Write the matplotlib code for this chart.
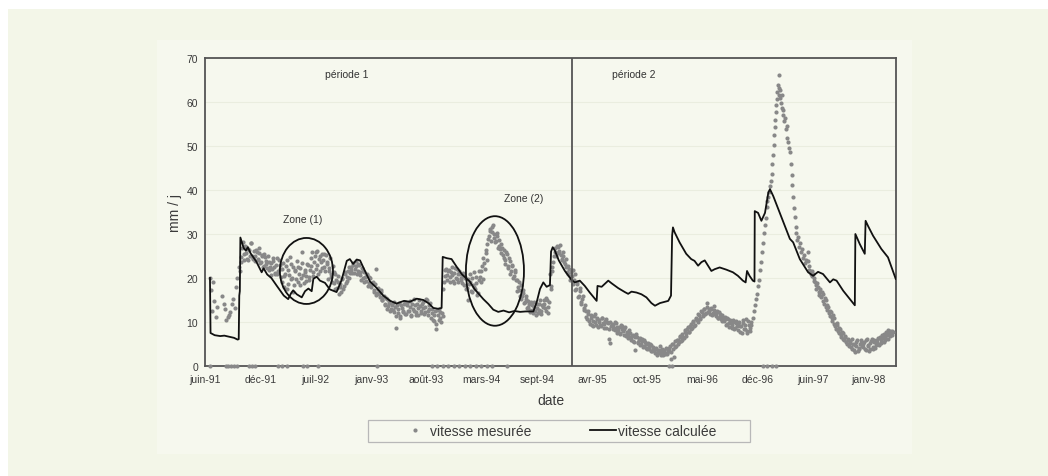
import numpy as np
import matplotlib
matplotlib.use("Agg")
import matplotlib.pyplot as plt
import matplotlib.dates as mdates
from matplotlib.lines import Line2D
from matplotlib.patches import Ellipse, Rectangle

plt.rcParams["font.family"] = ["Liberation Sans", "DejaVu Sans"]

# origine des jours : 11 juin 1991
debut = np.datetime64("1991-06-11")

# ---- vitesse mesurée (mm/j) ----
# premières mesures, tous les 4 jours à partir du jour 18
mes_a_debut = 18
mes_a = [20.0, 17.2, 12.5, 19.0, 14.8, 11.2, 13.5]

# reprise des mesures, tous les 5 jours à partir du jour 62
mes_b_debut = 62
mes_b = [16.0, 14.2, 13.0, 10.4, 11.1, 11.6, 12.3, 14.0, 15.2, 13.2, 18.0, 20.1, 22.5]

# période 1, tous les 5 jours à partir du jour 127
mes_p1_debut = 127
mes_p1 = [
    21.5, 24.8, 28.2, 25.4, 27.1, 24.3, 26.6, 25.0, 27.9, 24.6,
    26.2, 23.9, 25.8, 24.4, 26.9, 23.6, 25.2, 22.8, 24.7, 23.1,
    24.9, 21.8, 23.4, 22.0, 24.6, 21.2, 23.0, 20.8, 24.2, 22.1,
    19.2, 23.5, 20.4, 22.8, 17.6, 21.9, 24.8, 19.7, 22.4, 18.3,
    21.6, 23.9, 19.0, 22.2, 20.1, 25.8, 18.8, 21.4, 20.5, 22.9,
    19.6, 22.7, 25.8, 21.3, 25.1, 22.0, 26.2, 24.3, 21.7, 25.5,
    24.0, 22.4, 25.2, 23.1, 21.5, 24.6, 20.2, 22.8, 18.9, 21.0,
    17.8, 20.4, 18.6, 16.9, 19.8, 18.2, 20.9, 19.4, 21.6, 20.0,
    22.6, 21.2, 23.4, 22.0, 23.8, 21.5, 22.9, 20.6, 22.2, 20.0,
    21.3, 19.4, 20.6, 18.8, 19.9, 17.9, 19.0, 17.2, 22.0, 16.6,
    17.5, 15.6, 16.8, 14.9, 16.0, 14.2, 15.3, 13.6, 14.7, 12.9,
    14.1, 12.3, 13.5, 8.6, 12.0, 14.3, 11.4, 13.2, 12.6, 14.5,
    11.8, 13.9, 12.4, 14.8, 11.6, 13.0, 15.2, 12.2, 14.0, 11.5,
    13.7, 12.1, 14.6, 11.9, 13.4, 15.0, 12.5, 13.8, 11.0, 12.9,
    10.2, 12.4, 8.3, 11.6, 13.0, 10.8, 12.1, 17.5, 20.4, 22.0,
    19.6, 21.8, 20.2, 22.4, 19.3, 21.1, 20.0, 22.0, 19.0, 20.8,
    19.5, 21.2, 18.4, 20.3, 17.8, 15.0, 19.2, 17.0, 20.1, 18.0,
    17.4, 20.3, 16.6, 21.5, 19.0, 22.8, 24.6, 22.0, 26.4, 27.8,
    29.6, 31.2, 30.4, 32.0, 29.0, 28.3, 29.6, 27.2, 26.5, 27.8,
    25.2, 26.3, 24.0, 25.4, 22.8, 23.9, 21.6, 22.7, 20.4, 21.3,
    19.6, 18.0, 17.2, 18.4, 15.8, 16.7, 14.5, 15.3, 13.4, 14.1,
    12.3, 13.8, 12.0, 14.6, 11.7, 13.2, 12.8, 14.9, 11.9, 13.5,
    14.2, 12.6, 15.0, 13.4, 20.8, 17.5, 22.4, 25.0, 26.8, 25.6,
    27.0, 26.1, 25.3, 24.2, 25.0, 23.1, 22.4, 21.0, 22.0, 19.6,
]
# second relevé de la période 1, décalé (jour 130, tous les 5 jours)
mes_p1_bis_debut = 130
mes_p1_bis = [
    23.6, 26.9, 24.2, 27.3, 25.6, 24.0, 26.4, 28.0, 25.1, 24.3,
    25.0, 26.4, 24.0, 25.7, 23.3, 24.9, 22.6, 25.5, 23.8, 22.2,
    23.7, 22.5, 20.6, 23.9, 22.4, 21.0, 24.5, 21.7, 22.9, 20.3,
    22.1, 17.9, 21.0, 24.0, 18.7, 20.6, 23.1, 19.9, 16.9, 21.8,
    19.8, 22.6, 20.9, 18.4, 23.5, 20.7, 21.9, 19.3, 23.2, 20.2,
    21.8, 24.6, 20.4, 23.7, 26.0, 23.0, 20.9, 25.0, 23.6, 22.3,
    25.4, 21.6, 23.6, 19.8, 22.3, 20.8, 19.2, 21.4, 17.6, 19.5,
    19.2, 16.3, 18.0, 19.9, 17.4, 21.4, 18.8, 20.3, 22.4, 21.2,
    21.8, 23.0, 21.1, 22.7, 20.8, 23.2, 21.3, 19.6, 21.5, 19.1,
    20.2, 20.9, 18.1, 20.3, 18.5, 18.9, 16.8, 18.6, 16.2, 17.8,
    16.3, 17.2, 15.0, 15.7, 13.8, 15.5, 13.0, 14.3, 12.4, 13.8,
    12.8, 14.6, 11.3, 13.9, 12.9, 10.9, 13.8, 12.2, 14.0, 11.9,
    14.4, 12.6, 13.4, 11.3, 14.1, 12.6, 13.8, 11.7, 13.1, 14.9,
    12.6, 14.2, 13.1, 12.2, 15.3, 11.6, 12.9, 14.4, 12.0, 10.5,
    11.6, 9.6, 12.8, 10.4, 12.2, 9.9, 11.4, 19.2, 21.8, 20.6,
    21.6, 19.0, 21.3, 20.6, 18.8, 22.3, 19.7, 20.9, 21.6, 19.9,
    18.8, 20.5, 19.9, 17.4, 19.8, 18.6, 20.8, 16.8, 18.4, 21.3,
    18.9, 16.2, 19.6, 20.2, 21.6, 19.7, 23.4, 25.6, 24.0, 28.8,
    30.6, 28.4, 31.6, 30.0, 28.1, 30.2, 26.8, 28.6, 25.6, 26.8,
    24.6, 23.2, 25.9, 22.2, 24.6, 21.0, 23.0, 20.1, 21.9, 19.5,
    17.1, 19.0, 16.0, 15.2, 17.2, 14.3, 15.8, 13.1, 14.8, 12.7,
    14.5, 12.7, 13.3, 12.4, 14.0, 12.1, 14.2, 12.6, 13.8, 15.1,
    13.1, 15.4, 12.1, 14.5, 18.2, 21.6, 23.6, 26.0, 25.1, 27.3,
    25.7, 27.4, 24.4, 25.8, 23.6, 24.3, 21.4, 22.8, 20.4, 21.4,
]

# période 2, tous les 5 jours à partir du jour 1327
mes_p2_debut = 1327
mes_p2 = [
    20.4, 18.6, 21.0, 17.4, 19.2, 16.0, 17.8, 14.6, 15.9, 13.2,
    12.4, 10.6, 11.8, 9.6, 10.9, 9.2, 11.3, 9.9, 10.6, 8.8,
    10.4, 9.1, 11.0, 9.5, 10.2, 8.7, 9.8, 6.1, 5.2, 9.6,
    9.3, 8.1, 9.7, 7.6, 8.8, 7.2, 9.1, 7.9, 8.4, 6.9,
    7.8, 6.4, 7.5, 6.0, 7.1, 5.5, 3.6, 6.6, 5.2, 6.3,
    5.0, 6.1, 4.6, 5.5, 4.1, 5.2, 3.8, 4.7, 3.4, 4.3,
    3.0, 4.1, 2.6, 3.7, 2.9, 3.9, 2.4, 3.4, 4.2, 2.7,
    3.5, 4.6, 1.6, 5.1, 2.0, 4.4, 5.8, 4.9, 6.5, 5.6,
    7.2, 6.3, 8.1, 7.4, 8.9, 7.8, 9.6, 8.7, 10.3, 9.4,
    11.0, 10.1, 11.7, 10.6, 12.3, 11.4, 13.0, 12.0, 14.4, 12.6,
    11.8, 13.2, 12.1, 12.8, 11.4, 12.5, 10.9, 11.9, 10.6, 11.6,
    10.2, 11.1, 9.5, 10.6, 8.9, 10.0, 9.3, 10.4, 8.6, 9.7,
    8.2, 10.1, 9.0, 7.5, 9.8, 8.4, 10.6, 7.9, 9.3, 8.0,
]
mes_p2_bis_debut = 1330
mes_p2_bis = [
    21.8, 19.5, 17.2, 18.7, 15.6, 17.0, 14.1, 15.3, 12.8, 13.9,
    11.1, 12.6, 10.2, 11.5, 9.3, 10.3, 11.9, 9.4, 10.9, 10.0,
    9.3, 10.8, 9.7, 8.6, 10.7, 9.9, 8.4, 10.0, 9.2, 8.3,
    8.6, 10.0, 8.9, 8.2, 7.4, 9.3, 8.3, 7.0, 8.9, 7.6,
    7.0, 8.2, 6.6, 6.9, 5.6, 6.5, 7.2, 5.4, 6.0, 4.8,
    5.7, 4.4, 5.8, 4.9, 3.8, 4.6, 5.0, 3.3, 4.2, 3.6,
    3.8, 2.9, 3.4, 4.5, 2.5, 3.2, 3.7, 2.8, 3.0, 3.6,
    4.2, 3.1, 5.0, 3.9, 5.6, 4.6, 6.0, 5.4, 6.8, 5.9,
    6.6, 7.8, 6.9, 8.4, 7.7, 9.2, 8.3, 10.0, 9.1, 10.7,
    10.5, 11.9, 10.9, 12.6, 11.6, 12.9, 11.8, 13.4, 12.2, 13.0,
    12.9, 11.6, 13.6, 11.9, 12.0, 10.9, 12.2, 11.3, 10.2, 11.0,
    10.7, 9.4, 11.0, 9.8, 10.4, 8.7, 9.9, 8.4, 10.2, 9.0,
    9.6, 7.8, 9.1, 10.4, 8.3, 9.4, 7.4, 10.2, 8.7, 10.0,
]

# crue de l'hiver 96-97
pic_jours = [1977, 1981, 1985, 1989, 1993, 1997, 2001, 2005, 2009, 2013,
             2017, 2020, 2023, 2026, 2029, 2032, 2035, 2038, 2041, 2044,
             2047, 2050, 2053, 2055, 2057, 2059, 2061, 2063, 2065, 2067,
             2069, 2071, 2073, 2075, 2076, 2078, 2080, 2082, 2084, 2086,
             2088, 2090, 2092, 2095, 2098, 2101, 2104, 2107, 2110, 2113,
             2116, 2119, 2122, 2125, 2128, 2131, 2134, 2137, 2140, 2143,
             2146, 2149, 2152, 2156, 2160, 2164, 2168, 2172, 2176]
pic_vitesse = [9.4, 10.8, 12.6, 13.9, 15.3, 16.4, 18.2, 19.6, 21.8, 23.6,
               26.0, 27.9, 30.2, 32.0, 33.6, 36.2, 37.4, 38.3, 39.6, 40.8,
               42.0, 43.6, 45.8, 47.9, 50.2, 52.4, 54.3, 56.0, 57.8, 59.4,
               60.6, 62.3, 63.8, 61.7, 66.1, 63.2, 60.9, 62.7, 59.8, 61.5,
               58.6, 57.0, 58.2, 55.6, 56.4, 53.8, 54.6, 51.9, 50.8, 49.5,
               48.6, 46.0, 43.4, 41.2, 38.5, 36.0, 33.8, 31.5, 30.2, 28.6,
               29.4, 27.0, 27.9, 25.8, 26.6, 24.5, 25.3, 23.4, 24.1]

# décrue 1997-98, tous les 5 jours à partir du jour 2180
mes_p3_debut = 2180
mes_p3 = [
    26.0, 22.8, 21.5, 20.4, 21.0, 19.4, 18.3, 18.9, 16.9, 17.5,
    15.6, 16.3, 14.2, 14.9, 12.8, 13.5, 11.4, 12.2, 10.3, 10.9,
    9.0, 9.8, 7.9, 8.7, 7.0, 7.8, 6.1, 6.9, 5.4, 6.2,
    4.6, 5.7, 3.9, 5.1, 3.2, 4.5, 5.9, 3.8, 4.9, 6.0,
    4.3, 5.4, 3.6, 6.2, 4.8, 3.9, 5.6, 4.4, 6.0, 4.1,
    5.2, 6.3, 4.7, 5.9, 7.0, 5.5, 6.6, 7.8, 6.2, 7.4, 8.0, 7.1, 7.7,
]
mes_p3_bis_debut = 2182
mes_p3_bis = [
    23.9, 21.8, 20.9, 21.6, 19.9, 19.0, 17.6, 17.9, 16.2, 15.8,
    16.8, 14.8, 15.5, 13.4, 13.9, 12.0, 12.6, 11.0, 11.5, 9.6,
    8.5, 9.3, 7.4, 8.3, 6.6, 7.4, 5.8, 6.5, 5.0, 5.8,
    5.3, 4.3, 6.2, 3.6, 4.8, 5.5, 3.4, 4.2, 5.3, 4.6,
    5.0, 3.9, 5.9, 4.5, 3.5, 5.2, 6.1, 3.8, 5.4, 4.7,
    5.8, 4.9, 6.6, 5.3, 6.4, 7.2, 6.0, 7.0, 8.2, 6.8, 7.5, 7.9,
]

# relevés nuls
zero_jours = [18, 75, 85, 95, 105, 115, 160, 170, 180, 265, 280, 295, 355, 370,
              410, 622, 820, 840, 860, 880, 900, 920, 940, 960, 980, 1000, 1020,
              1040, 1092, 1678, 1690, 2020, 2035, 2050, 2065]

# ---- vitesse calculée (mm/j) ----
calc_jours = [18, 20, 35, 55, 70, 90, 105, 118, 122, 124, 126, 128, 140, 148, 155,
              165, 185, 205, 212, 225, 240, 260, 285, 301, 312, 319, 332, 350, 362,
              374, 386, 392, 404, 416, 434, 452, 476, 494, 513, 524, 536, 549, 561,
              572, 597, 620, 645, 670, 693, 720, 741, 766, 790, 810, 826, 844, 856,
              860, 875, 892, 910, 930, 958, 975, 1007, 1025, 1043, 1061, 1080, 1100,
              1120, 1140, 1160, 1188, 1200, 1212, 1224, 1236, 1248, 1252, 1258, 1266,
              1280, 1302, 1327,
              1338, 1356, 1374, 1392, 1417, 1420, 1435, 1459, 1471, 1495, 1519, 1531,
              1543, 1561, 1579, 1597, 1615, 1628, 1646, 1676, 1686, 1690, 1693, 1699,
              1717, 1741, 1759, 1771, 1784, 1796, 1808, 1820, 1832, 1844, 1862, 1886,
              1910, 1928, 1946, 1956, 1961, 1970, 1982, 1988, 1989, 2001, 2013, 2026,
              2038, 2044, 2056, 2116, 2128, 2152, 2182, 2200, 2218, 2236, 2261, 2273,
              2285, 2309, 2333, 2351, 2353, 2369, 2387, 2390, 2399, 2417, 2447, 2471,
              2499]
calc_vitesse = [20.0, 7.5, 7.0, 6.8, 6.9, 6.6, 6.4, 6.0, 6.1, 16.0, 17.0, 29.2, 26.8,
                26.2, 27.0, 25.6, 23.8, 21.3, 22.2, 20.8, 20.0, 18.2, 16.0, 15.2, 16.6,
                17.2, 16.3, 15.6, 17.0, 17.6, 17.0, 19.8, 20.3, 19.4, 18.9, 17.4, 16.8,
                19.5, 23.9, 24.3, 23.2, 24.2, 24.0, 22.5, 19.2, 17.8, 16.0, 14.8, 14.2,
                14.8, 14.6, 15.3, 15.0, 14.2, 13.2, 13.0, 13.2, 24.8, 24.5, 24.3, 22.6,
                20.8, 19.2, 17.5, 15.2, 14.1, 12.8, 12.3, 12.6, 12.2, 12.5, 12.3, 12.4,
                12.4, 14.5, 17.5, 19.0, 18.0, 18.4, 26.0, 27.0, 26.2, 24.0, 21.6, 19.5,
                19.0, 19.4, 18.2, 16.7, 14.8, 18.2, 18.0, 19.4, 18.8, 17.7, 16.8, 16.4,
                16.9, 16.7, 16.3, 15.6, 14.3, 13.7, 14.3, 14.8, 16.0, 29.6, 31.5, 30.4,
                28.1, 25.5, 24.3, 23.9, 22.8, 23.6, 24.0, 22.8, 21.6, 22.0, 22.4, 21.9,
                21.3, 20.5, 19.4, 19.0, 21.6, 20.5, 19.4, 19.2, 35.2, 34.8, 33.0, 34.8,
                39.4, 40.2, 38.6, 28.9, 28.1, 24.3, 21.3, 20.5, 21.4, 20.9, 19.0, 19.7,
                19.4, 17.1, 15.2, 13.8, 30.0, 27.7, 25.5, 33.0, 31.8, 29.6, 26.6, 24.7,
                19.8]

# axe des dates : un repère tous les 200 jours
graduations = ["juin-91", "déc-91", "juil-92", "janv-93", "août-93", "mars-94",
               "sept-94", "avr-95", "oct-95", "mai-96", "déc-96", "juin-97", "janv-98"]
jour_fin = 2500
jour_separation = 1327


def en_date(jours):
    return mdates.date2num(debut + np.asarray(jours).astype("timedelta64[D]"))


def serie(depart, pas, valeurs):
    return depart + pas * np.arange(len(valeurs))


fond = "#f3f6e8"
fond_cadre = "#f6f8ee"
gris_pt = "#888888"
gris_axe = "#555555"

W, H = 1048, 477
fig = plt.figure(figsize=(W / 100, H / 100), dpi=100, facecolor="white")
fig.patches.append(Rectangle((8 / W, 0), 1, 1 - 10 / H, transform=fig.transFigure,
                             facecolor=fond, edgecolor="none", zorder=-3))
fig.patches.append(Rectangle((157 / W, 1 - 455 / H), (912 - 157) / W, (455 - 41) / H,
                             transform=fig.transFigure, facecolor=fond_cadre,
                             edgecolor="none", zorder=-2))

ax = fig.add_axes([205 / W, 1 - 367 / H, (896 - 205) / W, (367 - 59) / H])
ax.set_facecolor(fond_cadre)

style_pt = dict(linestyle="none", marker="o", markersize=3.0, markeredgewidth=0,
                color=gris_pt)
releves = [(mes_a_debut, 4, mes_a), (mes_b_debut, 5, mes_b),
           (mes_p1_debut, 5, mes_p1), (mes_p1_bis_debut, 5, mes_p1_bis),
           (mes_p2_debut, 5, mes_p2), (mes_p2_bis_debut, 5, mes_p2_bis),
           (mes_p3_debut, 5, mes_p3), (mes_p3_bis_debut, 5, mes_p3_bis)]
for depart, pas, valeurs in releves:
    ax.plot(en_date(serie(depart, pas, valeurs)), valeurs, zorder=3, **style_pt)
ax.plot(en_date(pic_jours), pic_vitesse, zorder=3, **style_pt)
ax.plot(en_date(zero_jours), np.zeros(len(zero_jours)), clip_on=False, zorder=3,
        **style_pt)

ax.plot(en_date(calc_jours), calc_vitesse, color="#111111", linewidth=1.3, zorder=4)

# séparation des deux périodes
ax.axvline(en_date(jour_separation), color=gris_axe, linewidth=1.3, zorder=5)

# zones commentées
ax.add_patch(Ellipse((en_date(367), 21.6), 192, 15.0, fill=False, edgecolor="#111111",
                     linewidth=1.3, zorder=6))
ax.add_patch(Ellipse((en_date(1049), 21.6), 210, 24.9, fill=False, edgecolor="#111111",
                     linewidth=1.3, zorder=6))

texte = dict(fontsize=7.5, color="#333333", ha="center", va="center")
ax.text(en_date(514), 66.4, "période 1", **texte)
ax.text(en_date(1552), 66.4, "période 2", **texte)
ax.text(en_date(352), 33.4, "Zone (1)", **texte)
ax.text(en_date(1153), 38.2, "Zone (2)", **texte)

ax.set_xlim(en_date(0), en_date(jour_fin))
ax.set_ylim(0, 70)
ax.set_xticks(en_date(np.arange(0, 200 * len(graduations), 200)))
ax.set_xticklabels(graduations)
ax.set_yticks(np.arange(0, 71, 10))
ax.tick_params(length=0, labelsize=7.5, labelcolor="#3a3a3a")
ax.tick_params(axis="x", pad=6)
ax.tick_params(axis="y", pad=5)
ax.grid(axis="y", color="#eaeddf", linewidth=0.8)
ax.set_axisbelow(True)
for spine in ax.spines.values():
    spine.set_color(gris_axe)
    spine.set_linewidth(1.3)

ax.set_xlabel("date", fontsize=10, color="#3a3a3a", labelpad=6)
ax.set_ylabel("mm / j", fontsize=10, color="#3a3a3a", labelpad=3)

# légende sous le graphique
fig.patches.append(Rectangle((368 / W, 1 - 443 / H), (750 - 368) / W, 22 / H,
                             transform=fig.transFigure, facecolor="none",
                             edgecolor="#b8b8b8", linewidth=0.9))
poignees = [Line2D([], [], **style_pt),
            Line2D([], [], color="#111111", linewidth=1.3)]
fig.legend(poignees, ["vitesse mesurée", "vitesse calculée"], loc="center",
           bbox_to_anchor=(559 / W, 1 - 432 / H), ncol=2, frameon=False, fontsize=10,
           handlelength=1.9, handletextpad=0.15, columnspacing=4.2, numpoints=1,
           labelcolor="#3a3a3a")

fig.savefig("out.png", dpi=100, facecolor=fig.get_facecolor())
